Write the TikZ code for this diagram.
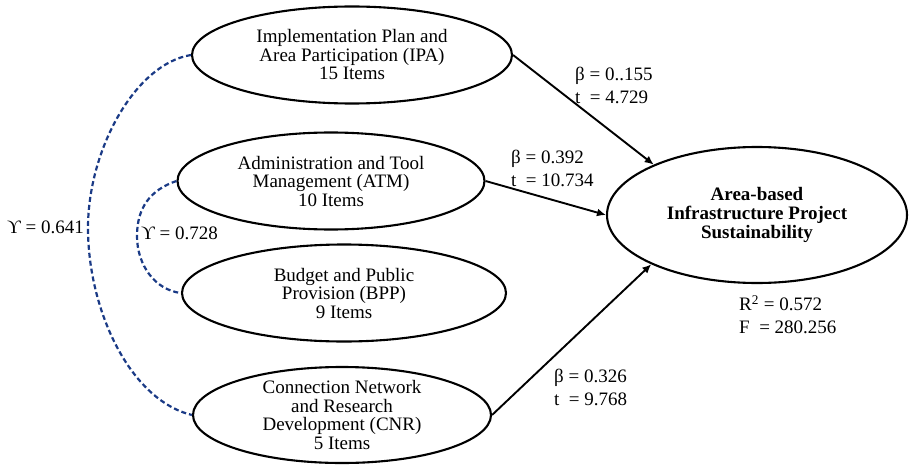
\documentclass[tikz,border=0pt]{standalone}
\usepackage{fontspec}
\setmainfont{Liberation Serif}
\usetikzlibrary{arrows.meta,shapes.geometric}
\definecolor{corr}{HTML}{1A3A86}
\begin{document}
\begin{tikzpicture}[x=1pt,y=-1pt,
  construct/.style={draw, ellipse, line width=2.1pt, inner sep=0pt},
  ctext/.style={align=center, inner sep=0pt, font=\fontsize{19}{18.5}\selectfont},
  ttext/.style={align=center, inner sep=0pt, font=\bfseries\fontsize{19}{19}\selectfont},
  effect/.style={line width=1.9pt, -{Latex[length=9pt,width=8pt]}},
  corrline/.style={corr, line width=2.2pt, dash pattern=on 5pt off 3pt},
  stat/.style={align=left, anchor=west, inner sep=0pt, font=\fontsize{19}{23}\selectfont}]
\useasboundingbox (0,0) rectangle (909,468);

\node[construct, minimum width=320pt, minimum height=97pt] (ipa) at (352,55) {};
\node[ctext] (ipat) at (ipa) {Implementation Plan and\\Area Participation (IPA)\\15 Items};

\node[construct, minimum width=307pt, minimum height=97pt] (atm) at (331,181) {};
\node[ctext] (atmt) at (atm) {Administration and Tool\\Management (ATM)\\10 Items};

\node[construct, minimum width=324pt, minimum height=97pt] (bpp) at (344,293) {};
\node[ctext] (bppt) at (bpp) {Budget and Public\\Provision (BPP)\\9 Items};

\node[construct, minimum width=298pt, minimum height=96pt] (cnr) at (342,415) {};
\node[ctext] (cnrt) at (cnr) {Connection Network\\and Research\\Development (CNR)\\5 Items};

\node[construct, minimum width=300pt, minimum height=136pt] (tgt) at (757,215) {};
\node[ttext] (tgtt) at (tgt) {Area-based\\Infrastructure Project\\Sustainability};

\draw[effect] (ipa.east) -- (tgt.154);
\draw[effect] (atm.east) -- (tgt.west);
\draw[effect] (cnr.east) -- (tgt.205);

\coordinate (o1) at (88,228);
\coordinate (i1) at (137,236);
\draw[corrline] (ipa.west) .. controls (135,64) and (88,150) .. (o1)
  .. controls (88,310) and (130,400) .. (cnr.west);
\draw[corrline] (atm.west) .. controls (150,190) and (137,208) .. (i1)
  .. controls (137,265) and (155,290) .. (bpp.west);

\node[stat] (c1) at (7,227) {ϒ = 0.641};
\node[stat] (c2) at (141,233) {ϒ = 0.728};

\node[stat] (s1) at (575,85) {β = 0..155\\t~~= 4.729};
\node[stat] (s2) at (511,168) {β = 0.392\\t~~= 10.734};
\node[stat] (s3) at (554,387) {β = 0.326\\t~~= 9.768};
\node[stat] (s4) at (739,315) {R\textsuperscript{2} = 0.572\\F~~= 280.256};
\end{tikzpicture}
\end{document}
